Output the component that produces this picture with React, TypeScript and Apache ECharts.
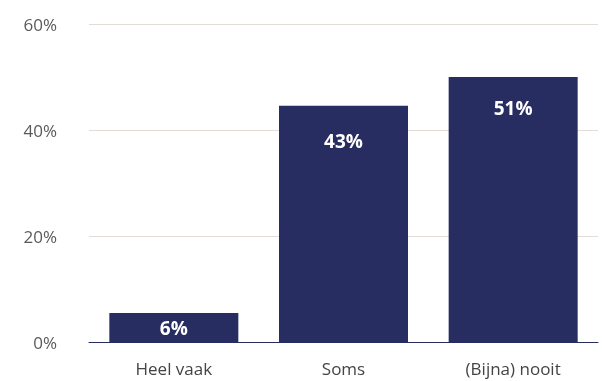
import React, { useEffect, useRef } from "react";
import * as echarts from "echarts";

const categories = ["Heel vaak", "Soms", "(Bijna) nooit"];
const barValues = [5.6, 44.6, 50.0];
const labelTexts = ["6%", "43%", "51%"];
const labelDistances = [6, 26, 21];
const yTicks = [0, 20, 40, 60];

export default function App() {
  const ref = useRef<HTMLDivElement>(null);
  useEffect(() => {
    if (!ref.current) return;
    const chart = echarts.init(ref.current, undefined, { renderer: "svg" });
    const font = "'Open Sans', 'Noto Sans', sans-serif";
    chart.setOption({
      animation: false,
      grid: { left: 89, right: 4, top: 24, bottom: 38.3 },
      xAxis: {
        type: "category",
        data: categories,
        axisTick: { show: false },
        axisLine: { lineStyle: { color: "#272D61", width: 1 } },
        axisLabel: { color: "#444", fontSize: 17, fontFamily: font, margin: 17 },
      },
      yAxis: {
        type: "value",
        min: yTicks[0],
        max: yTicks[yTicks.length - 1],
        interval: 20,
        axisLabel: {
          color: "#5a5a5a",
          fontSize: 17,
          fontFamily: font,
          margin: 32,
          formatter: (v: number) => `${v}%`,
        },
        splitLine: { lineStyle: { color: "#e2ddd6", width: 1 } },
      },
      series: [
        {
          type: "bar",
          barWidth: 129,
          itemStyle: { color: "#272D61" },
          data: barValues.map((v, i) => ({
            value: v,
            label: {
              show: true,
              position: "insideTop",
              distance: labelDistances[i],
              formatter: labelTexts[i],
              color: "#fff",
              fontSize: 19,
              fontWeight: "bold",
              fontFamily: font,
            },
          })),
        },
      ],
    });
    return () => chart.dispose();
  }, []);
  return (
    <div
      ref={ref}
      style={{ position: "fixed", left: 0, top: 0, width: 602, height: 381 }}
    />
  );
}
